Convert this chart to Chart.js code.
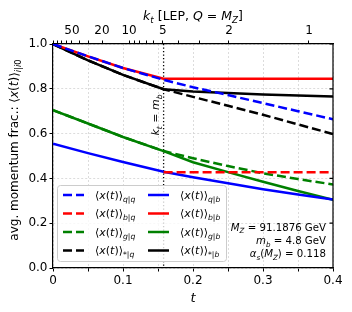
<!DOCTYPE html>
<html>
<head>
<meta charset="utf-8">
<script src="https://cdn.jsdelivr.net/npm/chart.js@4.4.1/dist/chart.umd.min.js"></script>
<style>
  html, body { margin: 0; padding: 0; background: #fff; }
  canvas { display: block; }
</style>
</head>
<body>
<canvas id="chartMomentum" width="352" height="312"></canvas>
<script>
// ---------------- data ------------------------
const tValues = [0, 0.05, 0.1, 0.158, 0.2, 0.25, 0.3, 0.35, 0.4];
const tKink = 0.158; // k_t = m_b

// dashed: <x(t)>_{i|q}
const xQQ   = [1.0, 0.945, 0.893, 0.840, 0.807, 0.772, 0.736, 0.700, 0.664];
const xBQ   = [null, null, null, 0.428, 0.428, 0.428, 0.428, 0.428, 0.428];
const xGQ   = [0.705, 0.645, 0.585, 0.522, 0.490, 0.455, 0.423, 0.397, 0.373];
const xAllQ = [1.0, 0.927, 0.862, 0.798, 0.764, 0.724, 0.684, 0.641, 0.598];
// solid: <x(t)>_{i|b}
const xQB   = [0.555, 0.513, 0.473, 0.430, 0.405, 0.378, 0.352, 0.328, 0.306];
const xBB   = [1.0, 0.945, 0.893, 0.845, 0.845, 0.845, 0.845, 0.845, 0.845];
const xGB   = [0.705, 0.645, 0.585, 0.522, 0.472, 0.428, 0.385, 0.344, 0.305];
const xAllB = [1.0, 0.927, 0.862, 0.798, 0.788, 0.781, 0.775, 0.770, 0.766];

// axis ticks
const tTicks = [0, 0.05, 0.1, 0.15, 0.2, 0.25, 0.3, 0.35, 0.4];
const tLabelled = [0, 0.1, 0.2, 0.3, 0.4];
const yTicks = [0, 0.2, 0.4, 0.6, 0.8, 1.0];
// top axis: k_t in GeV and where it sits in t
const ktAnchor = [91.1876, 50, 20, 10, 5, 2, 1];
const tAnchor  = [0, 0.027, 0.070, 0.1086, 0.157, 0.2514, 0.3657];
const ktMajor = [50, 20, 10, 5, 2, 1];
const ktMinor = [90, 80, 70, 60, 40, 30, 9, 8, 7, 6, 4, 3];

// ---------------- helpers ------------------------
const FAM = '"DejaVu Sans", sans-serif';

function tOfKt(kt) {
    const l = Math.log(kt);
    for (let i = 0; i < ktAnchor.length - 1; i++) {
        const a = Math.log(ktAnchor[i]), b = Math.log(ktAnchor[i + 1]);
        if (l <= a && l >= b) {
            return tAnchor[i] + (tAnchor[i + 1] - tAnchor[i]) * (a - l) / (a - b);
        }
    }
    return tAnchor[tAnchor.length - 1];
}

const topTicks = ktMajor.map(k => ({ value: tOfKt(k), label: String(k) }))
    .concat(ktMinor.map(k => ({ value: tOfKt(k), label: '' })));

function pts(arr) {
    return tValues.map((t, i) => ({ x: t, y: arr[i] }));
}

// tiny mathtext: $...$ = math (letters italic), _x or _{..} = subscript
function richSegs(s) {
    const out = [];
    let math = false;
    const push = (c, it, sub) => {
        const last = out[out.length - 1];
        if (last && last.it === it && last.sub === sub) last.t += c;
        else out.push({ t: c, it: it, sub: sub });
    };
    for (let i = 0; i < s.length; i++) {
        const c = s[i];
        if (c === '$') { math = !math; continue; }
        if (c === '_' && math) {
            let grp;
            if (s[i + 1] === '{') { const j = s.indexOf('}', i); grp = s.slice(i + 2, j); i = j; }
            else { grp = s[i + 1]; i++; }
            for (const g of grp) push(g, /[A-Za-z]/.test(g), true);
            continue;
        }
        push(c, math && /[A-Za-zα-ω]/.test(c), false);
    }
    return out;
}

function richText(ctx, s, x, yMid, size, align) {
    const segs = richSegs(s);
    const font = g => (g.it ? 'italic ' : '') + (g.sub ? size * 0.7 : size) + 'px ' + FAM;
    let w = 0;
    segs.forEach(g => { ctx.font = font(g); g.w = ctx.measureText(g.t).width; w += g.w; });
    let cx = align === 'right' ? x - w : align === 'center' ? x - w / 2 : x;
    const base = yMid + size * 0.36;
    ctx.textBaseline = 'alphabetic';
    ctx.textAlign = 'left';
    segs.forEach(g => {
        ctx.font = font(g);
        ctx.fillText(g.t, cx, base + (g.sub ? size * 0.24 : 0));
        cx += g.w;
    });
}

// ---------------- overlay plugin ------------------------
const overlay = {
    id: 'overlay',
    beforeDatasetsDraw(chart) {
        const ctx = chart.ctx, a = chart.chartArea;
        const x = chart.scales.x.getPixelForValue(tKink);
        ctx.save();
        ctx.strokeStyle = '#000';
        ctx.lineWidth = 1.3;
        ctx.setLineDash([1.3, 2.2]);
        ctx.beginPath();
        ctx.moveTo(x, a.top);
        ctx.lineTo(x, a.bottom);
        ctx.stroke();
        ctx.restore();
    },
    afterDraw(chart) {
        const ctx = chart.ctx, a = chart.chartArea;
        const ys = chart.scales.y;
        ctx.save();
        ctx.fillStyle = '#000';
        ctx.strokeStyle = '#000';

        // right spine with inward ticks
        ctx.lineWidth = 1.2;
        ctx.beginPath();
        ctx.moveTo(a.right, a.top);
        ctx.lineTo(a.right, a.bottom);
        yTicks.forEach(v => {
            const y = ys.getPixelForValue(v);
            ctx.moveTo(a.right, y);
            ctx.lineTo(a.right - 3.5, y);
        });
        ctx.stroke();

        // axis titles
        const cxArea = (a.left + a.right) / 2;
        richText(ctx, '$k_t$ [LEP, $Q = M_Z$]', cxArea, 15, 12.5, 'center');
        richText(ctx, '$t$', cxArea, 297, 13, 'center');
        ctx.save();
        ctx.translate(14, 150);
        ctx.rotate(-Math.PI / 2);
        richText(ctx, 'avg. momentum frac.: $⟨x(t)⟩_{i|i0}$', 0, 0, 12, 'center');
        ctx.restore();

        // k_t = m_b label
        ctx.save();
        ctx.translate(chart.scales.x.getPixelForValue(tKink) - 8.5, 115);
        ctx.rotate(-Math.PI / 2);
        richText(ctx, '$k_t = m_b$', 0, 0, 11, 'center');
        ctx.restore();

        // legend
        ctx.beginPath();
        ctx.roundRect(57.5, 185.5, 169, 76, 3);
        ctx.fillStyle = 'rgba(255,255,255,0.8)';
        ctx.fill();
        ctx.strokeStyle = '#cccccc';
        ctx.lineWidth = 1;
        ctx.stroke();
        chart.data.datasets.forEach((ds, i) => {
            const col = Math.floor(i / 4), row = i % 4;
            const lx = col === 0 ? 63 : 148;
            const ly = 195 + row * 18.5;
            ctx.strokeStyle = ds.borderColor;
            ctx.lineWidth = ds.borderWidth;
            ctx.setLineDash(ds.borderDash || []);
            ctx.beginPath();
            ctx.moveTo(lx, ly);
            ctx.lineTo(lx + 21, ly);
            ctx.stroke();
            ctx.setLineDash([]);
            ctx.fillStyle = '#000';
            richText(ctx, ds.label, lx + 32, ly, 11, 'left');
        });

        // parameter box
        ctx.fillStyle = '#000';
        richText(ctx, '$M_Z = 91.1876$ GeV', 326, 227, 10.2, 'right');
        richText(ctx, '$m_b = 4.8$ GeV', 326, 240.5, 10.2, 'right');
        richText(ctx, '$α_s(M_Z) = 0.118$', 326, 253.5, 10.2, 'right');
        ctx.restore();
    }
};

// ---------------- chart ------------------------
const grafico = document.getElementById('chartMomentum');

const dashed = [9, 4];
function serie(label, arr, color, dash) {
    return {
        label: label,
        data: pts(arr),
        borderColor: color,
        backgroundColor: color,
        borderWidth: 2.5,
        borderDash: dash,
        pointRadius: 0,
        tension: 0,
        spanGaps: false,
        // solid curves must end up on top of the dashed ones
        order: dash.length ? 0 : 1
    };
}

const gridStyle = {
    color: '#d4d4d4',
    lineWidth: 0.8,
    tickColor: '#000',
    tickWidth: 1,
    tickLength: 3.5
};

new Chart(grafico, {
    type: 'line',
    data: {
        datasets: [
            serie('$⟨x(t)⟩_{q|q}$', xQQ, '#0000ff', dashed),
            serie('$⟨x(t)⟩_{b|q}$', xBQ, '#ff0000', dashed),
            serie('$⟨x(t)⟩_{g|q}$', xGQ, '#008000', dashed),
            serie('$⟨x(t)⟩_{*|q}$', xAllQ, '#000000', dashed),
            serie('$⟨x(t)⟩_{q|b}$', xQB, '#0000ff', []),
            serie('$⟨x(t)⟩_{b|b}$', xBB, '#ff0000', []),
            serie('$⟨x(t)⟩_{g|b}$', xGB, '#008000', []),
            serie('$⟨x(t)⟩_{*|b}$', xAllB, '#000000', [])
        ]
    },
    options: {
        responsive: false,
        devicePixelRatio: 1,
        animation: false,
        layout: { padding: { left: 0, right: 19, top: 0, bottom: 0 } },
        plugins: {
            legend: { display: false },
            tooltip: { enabled: false }
        },
        scales: {
            x: {
                type: 'linear',
                position: 'bottom',
                min: 0,
                max: 0.4,
                afterFit: s => { s.height = 44; },
                afterBuildTicks: s => { s.ticks = tTicks.map(v => ({ value: v })); },
                ticks: {
                    autoSkip: false,
                    maxRotation: 0,
                    padding: 2,
                    color: '#000',
                    font: { family: FAM, size: 12 },
                    callback: v => tLabelled.includes(v) ? String(v) : ''
                },
                grid: gridStyle,
                border: { color: '#000', width: 1.2, dash: [2, 2] }
            },
            x2: {
                type: 'linear',
                position: 'top',
                min: 0,
                max: 0.4,
                afterFit: s => { s.height = 44; },
                afterBuildTicks: s => { s.ticks = topTicks.map(k => ({ value: k.value })); },
                ticks: {
                    autoSkip: false,
                    maxRotation: 0,
                    padding: 2,
                    color: '#000',
                    font: { family: FAM, size: 12 },
                    callback: (v, i) => topTicks[i].label
                },
                grid: { drawOnChartArea: false, tickColor: '#000', tickWidth: 1, tickLength: 3.5 },
                border: { color: '#000', width: 1.2 }
            },
            y: {
                type: 'linear',
                min: 0,
                max: 1,
                afterFit: s => { s.width = 53; },
                afterBuildTicks: s => { s.ticks = yTicks.map(v => ({ value: v })); },
                ticks: {
                    padding: 2,
                    color: '#000',
                    font: { family: FAM, size: 12 },
                    callback: v => v.toFixed(1)
                },
                grid: gridStyle,
                border: { color: '#000', width: 1.2, dash: [2, 2] }
            }
        }
    },
    plugins: [overlay]
});
</script>
</body>
</html>
